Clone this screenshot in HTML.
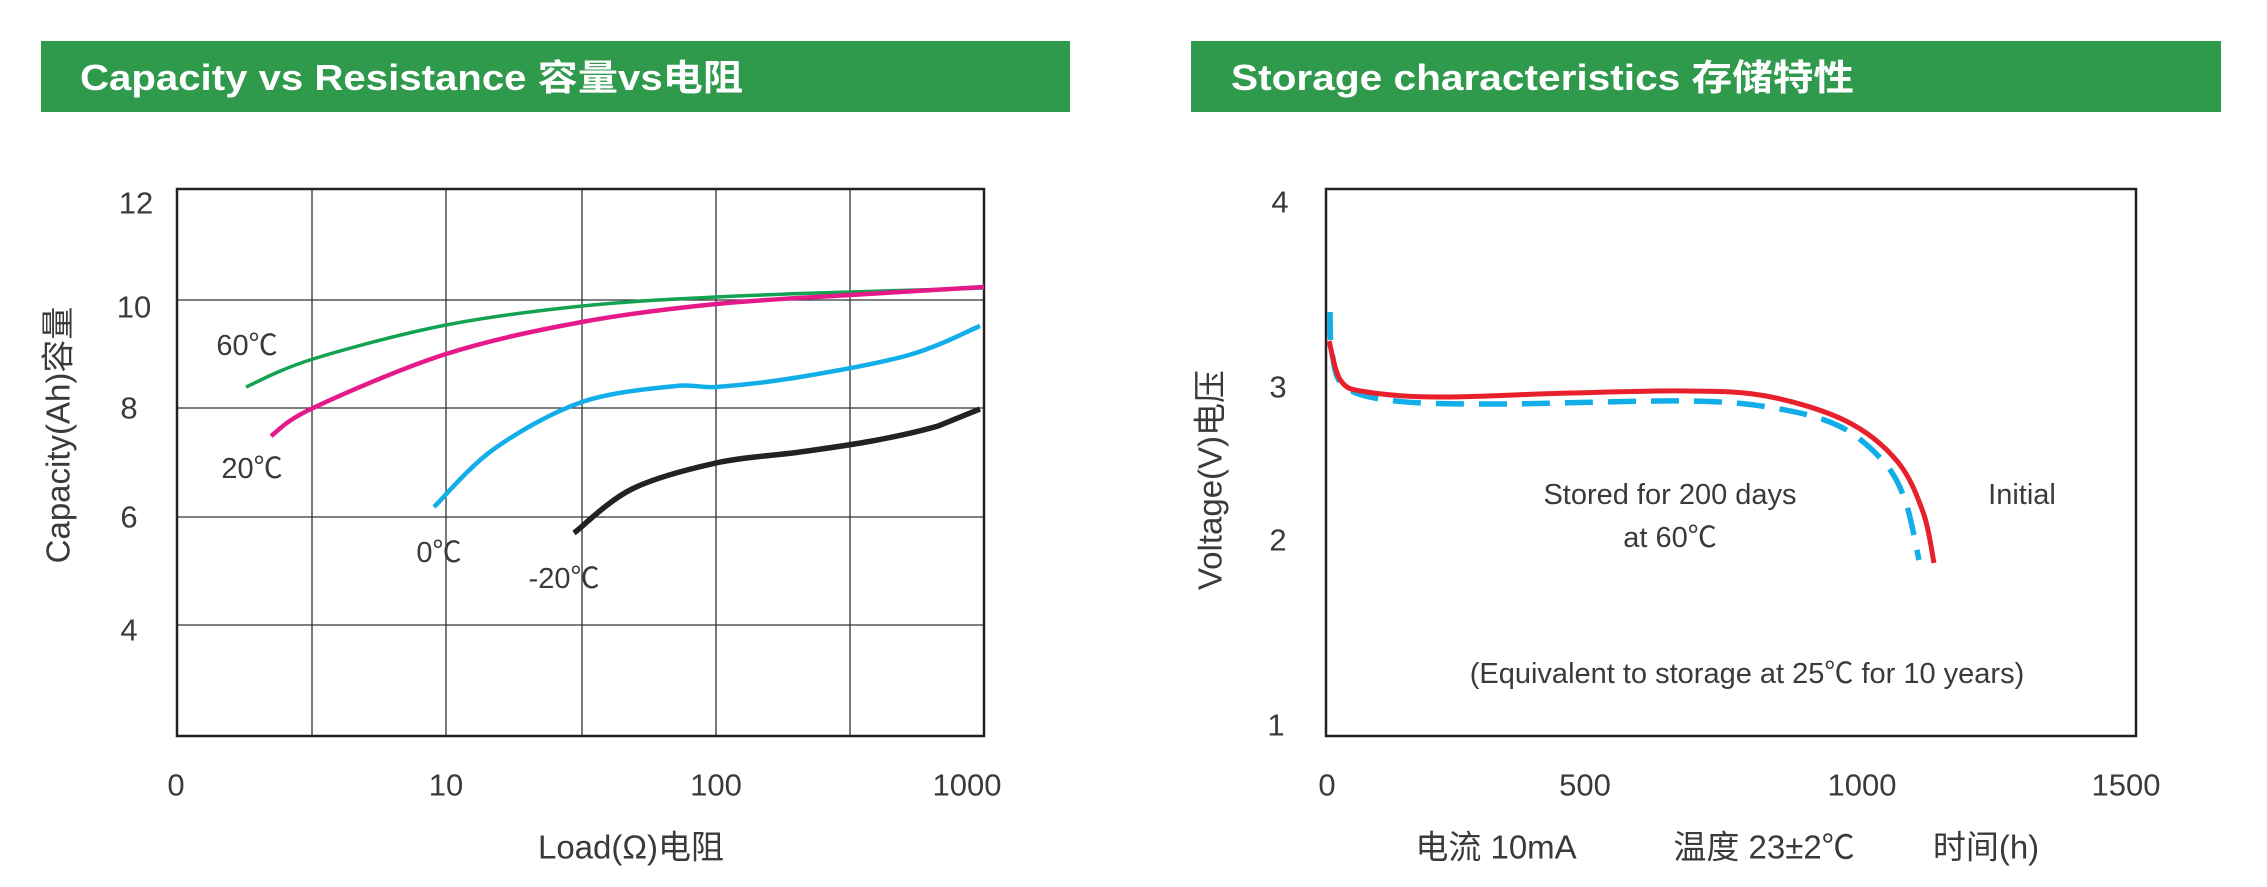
<!DOCTYPE html>
<html><head><meta charset="utf-8"><style>
html,body{margin:0;padding:0;background:#fff;}
svg{display:block;}
text{font-family:"Liberation Sans","Noto Sans CJK SC",sans-serif;fill:#3a3a3a;}
.t{fill:#fff;font-weight:bold;font-size:36px;}
.tk{font-size:31px;}
.lb{font-size:33px;}
.an{font-size:29px;}
</style></head><body>
<svg width="2267" height="887" viewBox="0 0 2267 887" xmlns="http://www.w3.org/2000/svg">
<rect x="41" y="41" width="1029" height="71" fill="#2f994c"/>
<text class="t" x="80" y="90" textLength="663" lengthAdjust="spacingAndGlyphs">Capacity vs Resistance  容量vs电阻</text>
<rect x="1191" y="41" width="1030" height="71" fill="#2f994c"/>
<text class="t" x="1231" y="90" textLength="623" lengthAdjust="spacingAndGlyphs">Storage characteristics  存储特性</text>

<g stroke="#333" stroke-width="1.3">
<line x1="312" y1="189" x2="312" y2="736"/>
<line x1="446" y1="189" x2="446" y2="736"/>
<line x1="582" y1="189" x2="582" y2="736"/>
<line x1="716" y1="189" x2="716" y2="736"/>
<line x1="850" y1="189" x2="850" y2="736"/>
<line x1="177" y1="300" x2="984" y2="300"/>
<line x1="177" y1="408" x2="984" y2="408"/>
<line x1="177" y1="517" x2="984" y2="517"/>
<line x1="177" y1="625" x2="984" y2="625"/>
</g>
<rect x="177" y="189" width="807" height="547" fill="none" stroke="#222" stroke-width="2.5"/>
<g text-anchor="middle" dominant-baseline="central">
<text class="tk" x="136" y="203">12</text>
<text class="tk" x="134" y="307">10</text>
<text class="tk" x="129" y="408">8</text>
<text class="tk" x="129" y="517">6</text>
<text class="tk" x="129" y="630">4</text>
<text class="tk" x="176" y="785">0</text>
<text class="tk" x="446" y="785">10</text>
<text class="tk" x="716" y="785">100</text>
<text class="tk" x="967" y="785">1000</text>
<text class="lb" x="631" y="847">Load(Ω)电阻</text>
<text class="lb" transform="translate(58,435) rotate(-90)">Capacity(Ah)容量</text>
<text class="an" x="247" y="346">60℃</text>
<text class="an" x="252" y="469">20℃</text>
<text class="an" x="439" y="553">0℃</text>
<text class="an" x="564" y="579">-20℃</text>
</g>
<g fill="none">
<path d="M246,387 C257,382.3 279.7,369.3 313,359 C346.3,348.7 401.2,333.8 446,325 C490.8,316.2 537,310.7 582,306 C627,301.3 671.3,299.3 716,297 C760.7,294.7 805.3,293.5 850,292 C894.7,290.5 961.7,288.7 984,288" stroke="#13a152" stroke-width="3.5"/>
<path d="M271,436 C278,431.3 283.8,421.7 313,408 C342.2,394.3 401.2,368.3 446,354 C490.8,339.7 537,330.3 582,322 C627,313.7 671.3,308.5 716,304 C760.7,299.5 805.3,297.8 850,295 C894.7,292.2 961.7,288.3 984,287" stroke="#e5198a" stroke-width="4.5"/>
<path d="M434,507 C444,497.3 469.3,466.5 494,449 C518.7,431.5 551.7,412.5 582,402 C612.3,391.5 653.7,388.5 676,386 C690,384 703,388 716,387 C736.7,385.5 767.8,382.3 800,377 C832.2,371.7 879,363.5 909,355 C939,346.5 968.2,330.8 980,326" stroke="#11aee9" stroke-width="4.5"/>
<path d="M574,533 C583.7,525.7 608.3,500.7 632,489 C655.7,477.3 688,469.2 716,463 C744,456.8 774,455.7 800,452 C826,448.3 849,445.3 872,441 C895,436.7 920,431.3 938,426 C956,418.7 973,411.8 980,409" stroke="#222" stroke-width="5.5"/>
</g>

<rect x="1326" y="189" width="810" height="547" fill="none" stroke="#222" stroke-width="2.5"/>
<g text-anchor="middle" dominant-baseline="central">
<text class="tk" x="1280" y="202">4</text>
<text class="tk" x="1278" y="387">3</text>
<text class="tk" x="1278" y="540">2</text>
<text class="tk" x="1276" y="725">1</text>
<text class="tk" x="1327" y="785">0</text>
<text class="tk" x="1585" y="785">500</text>
<text class="tk" x="1862" y="785">1000</text>
<text class="tk" x="2126" y="785">1500</text>
<text class="lb" x="1496" y="847">电流 10mA</text>
<text class="lb" x="1764" y="847">温度 23±2℃</text>
<text class="lb" x="1986" y="847">时间(h)</text>
<text class="lb" transform="translate(1210,480) rotate(-90)">Voltage(V)电压</text>
<text class="an" x="1670" y="495">Stored for 200 days</text>
<text class="an" x="1670" y="538">at 60℃</text>
<text class="an" x="2022" y="495">Initial</text>
<text class="an" x="1747" y="674">(Equivalent to storage at 25℃ for 10 years)</text>
</g>
<g fill="none">
<path d="M1330,312 C1330.3,318.8 1329.5,340.5 1332,353 C1334.5,365.5 1334.3,379 1345,387 C1355.7,395 1370.7,398.2 1396,401 C1421.3,403.8 1448.7,404 1497,404 C1545.3,404 1639.8,400.3 1686,401 C1732.2,401.7 1748.5,403.8 1774,408 C1799.5,412.2 1820.8,417.2 1839,426 C1857.2,434.8 1872,448.7 1883,461 C1894,473.3 1899,483.5 1905,500 C1911,516.5 1916.7,550 1919,560" stroke="#11aee9" stroke-width="5.5" stroke-dasharray="28,15"/>
<path d="M1329,341 C1331,347.7 1334.7,372.5 1341,381 C1347.3,389.5 1350.7,389.3 1367,392 C1383.3,394.7 1405.2,396.8 1439,397 C1472.8,397.2 1528.8,394 1570,393 C1611.2,392 1653.3,390.5 1686,391 C1718.7,391.5 1739.3,391 1766,396 C1792.7,401 1824.2,410.2 1846,421 C1867.8,431.8 1884.2,445.8 1897,461 C1909.8,476.2 1916.8,495 1923,512 C1929.2,529 1932.2,554.5 1934,563" stroke="#e8202b" stroke-width="5"/>
</g>
</svg>
</body></html>
